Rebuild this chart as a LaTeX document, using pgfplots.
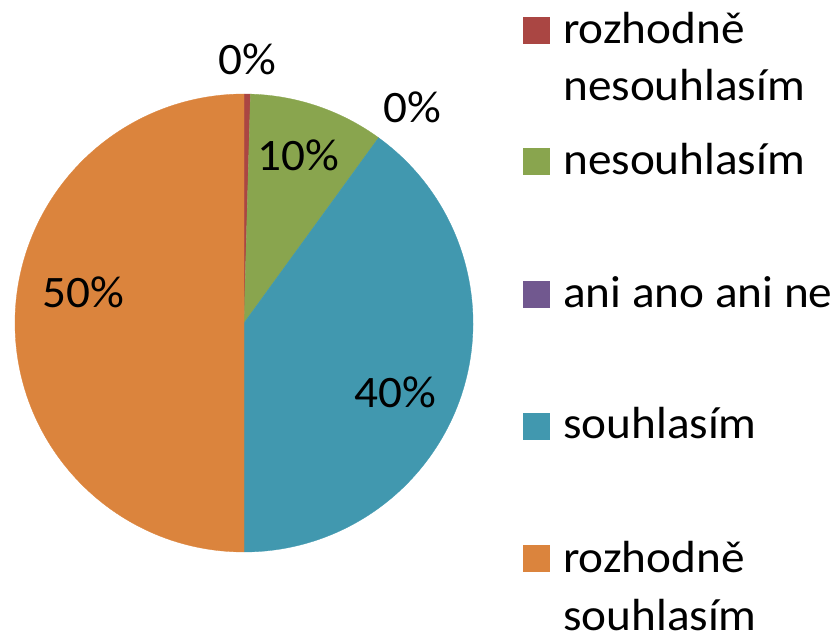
\documentclass[border=0pt]{standalone}
\usepackage{pgfplots}
\pgfplotsset{compat=1.18}
\usepackage{fontspec}
\setmainfont[FakeStretch=1.05]{Carlito}
\definecolor{cRed}{HTML}{AA4643}
\definecolor{cGreen}{HTML}{89A54E}
\definecolor{cPurple}{HTML}{71588F}
\definecolor{cBlue}{HTML}{4198AF}
\definecolor{cOrange}{HTML}{DB843D}
% pie centre and radius (in px = pt)
\def\cx{244}\def\cy{323}\def\rr{229}
% \slice{cumulative percent before}{percent}{colour}
\newcommand\slice[3]{%
  \pgfmathsetmacro\sa{90-3.6*#1}%
  \pgfmathsetmacro\ea{90-3.6*(#1+#2)}%
  \pgfmathsetmacro\sx{\cx+\rr*cos(\sa)}%
  \pgfmathsetmacro\sy{\cy-\rr*sin(\sa)}%
  \edef\tmp{\noexpand\addplot[fill=#3,draw=#3,line width=0.3pt] coordinates {(\cx,\cy) (\sx,\sy)} arc[start angle=\sa, end angle=\ea, radius=\rr pt] -- cycle;}%
  \tmp}
\begin{document}
\begin{tikzpicture}
\begin{axis}[
  x=1pt, y=1pt, y dir=reverse,
  xmin=0, xmax=839, ymin=0, ymax=634,
  hide axis, clip=false,
  scale only axis,
]
% data (percent): rozhodne nesouhlasim 0.45, nesouhlasim 9.55, ani ano ani ne 0, souhlasim 40, rozhodne souhlasim 50
\slice{0}{0.45}{cRed}
\slice{0.45}{9.55}{cGreen}
\slice{10}{40}{cBlue}
\slice{50}{50}{cOrange}
\path (axis cs:0,0) (axis cs:839,634);
% data labels
\begin{scope}[font=\fontsize{45}{58}\selectfont]
\node[anchor=base, inner sep=0pt] at (axis cs:247,75) {0\%};
\node[anchor=base, inner sep=0pt] at (axis cs:412,122) {0\%};
\node[anchor=base, inner sep=0pt] at (axis cs:298,170) {10\%};
\node[anchor=base, inner sep=0pt] at (axis cs:395.5,407) {40\%};
\node[anchor=base, inner sep=0pt] at (axis cs:83.5,307) {50\%};
% legend
\fill[cRed] (axis cs:523,17) rectangle (axis cs:550,44);
\node[anchor=base west, inner sep=0pt] at (axis cs:563,44) {rozhodně};
\node[anchor=base west, inner sep=0pt] at (axis cs:563,101) {nesouhlasím};
\fill[cGreen] (axis cs:523,148) rectangle (axis cs:550,175);
\node[anchor=base west, inner sep=0pt] at (axis cs:563,175) {nesouhlasím};
\fill[cPurple] (axis cs:523,281) rectangle (axis cs:550,308);
\node[anchor=base west, inner sep=0pt] at (axis cs:563,307) {ani ano ani ne};
\fill[cBlue] (axis cs:523,413) rectangle (axis cs:550,440);
\node[anchor=base west, inner sep=0pt] at (axis cs:563,438) {souhlasím};
\fill[cOrange] (axis cs:523,545) rectangle (axis cs:550,572);
\node[anchor=base west, inner sep=0pt] at (axis cs:563,572) {rozhodně};
\node[anchor=base west, inner sep=0pt] at (axis cs:563,630) {souhlasím};
\end{scope}
\end{axis}
\end{tikzpicture}
\end{document}
